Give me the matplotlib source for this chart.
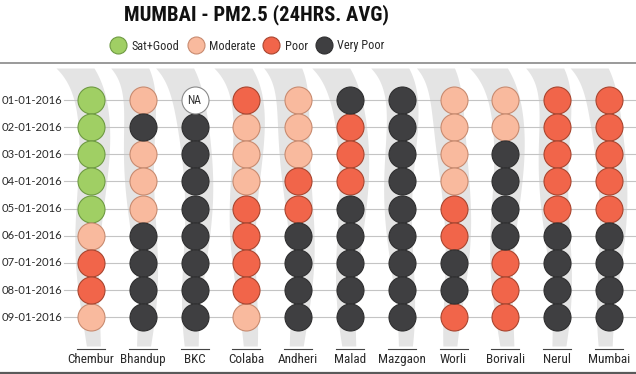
import os
import numpy as np
import matplotlib
matplotlib.use('Agg')
import matplotlib.pyplot as plt
from matplotlib import font_manager
from matplotlib.font_manager import FontProperties
from matplotlib.lines import Line2D

# ---------------- data ----------------
stations = ['Chembur', 'Bhandup', 'BKC', 'Colaba', 'Andheri', 'Malad',
            'Mazgaon', 'Worli', 'Borivali', 'Nerul', 'Mumbai']
dates = ['01-01-2016', '02-01-2016', '03-01-2016', '04-01-2016', '05-01-2016',
         '06-01-2016', '07-01-2016', '08-01-2016', '09-01-2016']
categories = ['Sat+Good', 'Moderate', 'Poor', 'Very Poor']

chembur  = ['Sat+Good', 'Sat+Good', 'Sat+Good', 'Sat+Good', 'Sat+Good', 'Moderate', 'Poor', 'Poor', 'Moderate']
bhandup  = ['Moderate', 'Very Poor', 'Moderate', 'Moderate', 'Moderate', 'Very Poor', 'Very Poor', 'Very Poor', 'Very Poor']
bkc      = ['NA', 'Very Poor', 'Very Poor', 'Very Poor', 'Very Poor', 'Very Poor', 'Very Poor', 'Very Poor', 'Very Poor']
colaba   = ['Poor', 'Moderate', 'Moderate', 'Moderate', 'Poor', 'Poor', 'Poor', 'Poor', 'Moderate']
andheri  = ['Moderate', 'Moderate', 'Moderate', 'Poor', 'Poor', 'Very Poor', 'Very Poor', 'Very Poor', 'Very Poor']
malad    = ['Very Poor', 'Poor', 'Poor', 'Poor', 'Very Poor', 'Very Poor', 'Very Poor', 'Very Poor', 'Very Poor']
mazgaon  = ['Very Poor'] * 9
worli    = ['Moderate', 'Moderate', 'Moderate', 'Moderate', 'Poor', 'Poor', 'Very Poor', 'Very Poor', 'Poor']
borivali = ['Moderate', 'Moderate', 'Very Poor', 'Very Poor', 'Very Poor', 'Very Poor', 'Poor', 'Poor', 'Poor']
nerul    = ['Poor', 'Poor', 'Poor', 'Poor', 'Poor', 'Very Poor', 'Very Poor', 'Very Poor', 'Very Poor']
mumbai   = ['Poor', 'Poor', 'Poor', 'Poor', 'Poor', 'Very Poor', 'Very Poor', 'Very Poor', 'Very Poor']

readings = [chembur, bhandup, bkc, colaba, andheri, malad, mazgaon, worli, borivali, nerul, mumbai]

# ---------------- styles ----------------
fills = {'Sat+Good': '#a0cf64', 'Moderate': '#f9ba9e', 'Poor': '#f1654a', 'Very Poor': '#3f3f41', 'NA': '#ffffff'}
edges = {'Sat+Good': '#6e9a42', 'Moderate': '#c88b70', 'Poor': '#a9452f', 'Very Poor': '#2f2f30', 'NA': '#8a8a8a'}

# ---- find a condensed / narrow font if one is installed ----
def find_condensed(bold):
    prefs = ['roboto', 'liberation', 'noto', 'opensans', 'open', 'dejavu', 'lato', 'inter']
    found = []
    for f in font_manager.fontManager.ttflist:
        base = os.path.basename(f.fname).lower()
        cond = ('condensed' in base or 'narrow' in base or 'cond' in base
                or 'condensed' in f.name.lower() or 'narrow' in f.name.lower()
                or f.stretch in ('condensed', 'semi-condensed', 'extra-condensed'))
        if not cond or 'italic' in base or 'oblique' in base:
            continue
        if 'extra' in base or 'ultra' in base or 'semi' in base or 'light' in base \
                or 'thin' in base or 'black' in base or 'medium' in base:
            continue
        w = f.weight if isinstance(f.weight, int) else (700 if 'bold' in str(f.weight) else 400)
        is_bold = w >= 600 or 'bold' in base
        if is_bold != bold:
            continue
        rank = next((i for i, p in enumerate(prefs) if base.startswith(p)), len(prefs))
        found.append((rank, f.fname))
    found.sort()
    return found[0][1] if found else None

names = {f.name for f in font_manager.fontManager.ttflist}
cond_reg = find_condensed(False)
cond_bold = find_condensed(True)
if cond_reg:
    FP_REG = lambda size: FontProperties(fname=cond_reg, size=size)
else:
    FP_REG = lambda size: FontProperties(family='Roboto', size=size * 0.85)
if cond_bold:
    FP_BOLD = lambda size: FontProperties(fname=cond_bold, size=size)
else:
    FP_BOLD = lambda size: FontProperties(family='Roboto', weight='bold', size=size * 0.8)
LABEL = 'Lato' if 'Lato' in names else 'DejaVu Sans'

W, H = 636, 374
fig = plt.figure(figsize=(W / 100, H / 100), dpi=100)
fig.patch.set_facecolor('white')
ax = fig.add_axes([0, 0, 1, 1])

# pixel layout of the grid
X0, PX = 91.0, 51.8     # first column centre, px per column
Y0, PY = 100.0, 27.16   # first row centre, px per row
ax.set_xlim(-X0 / PX, (W - X0) / PX)
ax.set_ylim((H - Y0) / PY, -Y0 / PY)
ax.axis('off')

def ypx(p):
    return (p - Y0) / PY

def xpx(p):
    return (p - X0) / PX

# decorative ribbons behind the columns
for c in range(len(stations)):
    yp = np.linspace(68, 346, 240)
    t = (yp - 68) / 278
    centre = -16 * np.exp(-(yp - 68) / 22) + 4 * np.sin(2 * np.pi * (1.1 * t + 0.37 * c))
    hw = 16 - 9 * t ** 2 + 3 * np.exp(-(yp - 68) / 14)
    ax.fill_betweenx(ypx(yp), c + (centre - hw) / PX, c + (centre + hw) / PX,
                     color='#e4e4e4', lw=0, zorder=0)

# row grid lines and labels
for r, d in enumerate(dates):
    ax.plot([xpx(64), xpx(W)], [r, r], color='#c4c4c4', lw=0.8, zorder=1)
    ax.text(xpx(62), r, d, ha='right', va='center', fontsize=8.1,
            family=LABEL, color='#2a2a2a')

# circles
DIAM_PT = 27 * 0.72
for cat in categories + ['NA']:
    xs, ys = [], []
    for c, col in enumerate(readings):
        for r, v in enumerate(col):
            if v == cat:
                xs.append(c)
                ys.append(r)
    if xs:
        ax.scatter(xs, ys, s=DIAM_PT ** 2, c=fills[cat], edgecolors=edges[cat],
                   linewidths=0.8, zorder=3)
        if cat == 'NA':
            for x, y in zip(xs, ys):
                ax.text(x, y, 'NA', ha='center', va='center',
                        fontproperties=FP_REG(8.5), color='#333333', zorder=4)

# column labels with short rules above
for c, s in enumerate(stations):
    ax.plot([c - 14 / PX, c + 14 / PX], [ypx(349), ypx(349)], color='#444444', lw=0.8, zorder=2)
    ax.text(c, ypx(359), s, ha='center', va='center',
            fontproperties=FP_REG(9.5), color='#2a2a2a')

# horizontal rules
ax.plot([xpx(0), xpx(W)], [ypx(63), ypx(63)], color='#9a9a9a', lw=1.4, zorder=2)
ax.plot([xpx(0), xpx(W)], [ypx(372.5), ypx(372.5)], color='#5a5a5a', lw=1.6, zorder=2)

# title
fig.text(257 / W, 1 - 15 / H, 'MUMBAI - PM2.5 (24HRS. AVG)', ha='center', va='center',
         fontproperties=FP_BOLD(14.9), color='#111111')

# legend
handles = [Line2D([], [], marker='o', linestyle='none', markersize=17 * 0.72,
                  markerfacecolor=fills[k], markeredgecolor=edges[k], markeredgewidth=0.8)
           for k in categories]
leg = ax.legend(handles, categories, ncol=4, loc='center', frameon=False,
                bbox_to_anchor=(247 / W, 1 - 46 / H), bbox_transform=fig.transFigure,
                prop=FP_REG(8.8), handlelength=1.45,
                handletextpad=0.35, columnspacing=0.6, borderpad=0, borderaxespad=0)
for t in leg.get_texts():
    t.set_color('#2a2a2a')

fig.savefig('out.png', dpi=100, facecolor='white')
